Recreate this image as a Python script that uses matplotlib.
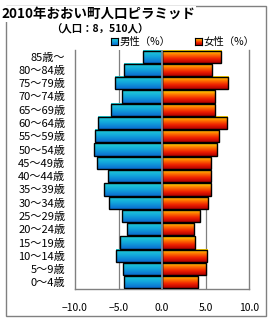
import numpy as np
import matplotlib
matplotlib.use("Agg")
import matplotlib.pyplot as plt
from matplotlib.colors import LinearSegmentedColormap
from matplotlib.patches import Rectangle

plt.rcParams['font.family'] = ['Noto Sans CJK JP', 'DejaVu Sans']

age_groups = ["0～4歳", "5～9歳", "10～14歳", "15～19歳", "20～24歳", "25～29歳",
              "30～34歳", "35～39歳", "40～44歳", "45～49歳", "50～54歳", "55～59歳",
              "60～64歳", "65～69歳", "70～74歳", "75～79歳", "80～84歳", "85歳～"]
male_pct = [4.4, 4.5, 5.3, 4.8, 4.0, 4.6, 6.1, 6.7, 6.2, 7.5, 7.8, 7.7,
            7.3, 5.9, 4.6, 5.4, 4.4, 2.2]
female_pct = [4.1, 5.1, 5.2, 3.8, 3.7, 4.4, 5.3, 5.6, 5.6, 5.6, 6.3, 6.5,
              7.5, 6.1, 6.1, 7.6, 5.8, 6.8]
x_ticks = [-10, -5, 0, 5, 10]
title = "2010年おおい町人口ピラミッド"
subtitle = "（人口：8，510人）"
legend_labels = ["男性（%）", "女性（%）"]

W, H = 270, 320
fig = plt.figure(figsize=(W / 100, H / 100), dpi=100)

# outer frame
fig.patches.append(Rectangle((5.5 / W, 1 - 315.5 / H), 260 / W, 310 / H,
                             transform=fig.transFigure, fill=False,
                             edgecolor='#808080', linewidth=1.0))

ax = fig.add_axes([75 / W, 1 - 289 / H, 174 / W, 239 / H])

male_cmap = LinearSegmentedColormap.from_list("m", ["#0a6cd0", "#12a6dc", "#22d2d6"])
female_cmap = LinearSegmentedColormap.from_list("f", ["#b00000", "#f02000", "#ff7800", "#ffe000"])
grad = np.linspace(0, 1, 64).reshape(-1, 1)

h = 0.92
for i, (m, f) in enumerate(zip(male_pct, female_pct)):
    y0, y1 = i - h / 2, i + h / 2
    ax.imshow(grad, extent=[-m, 0, y0, y1], origin='lower', aspect='auto',
              cmap=male_cmap, zorder=2, interpolation='bilinear')
    ax.add_patch(Rectangle((-m, y0), m, h, fill=False, edgecolor='black',
                           linewidth=1.0, zorder=3))
    ax.imshow(grad, extent=[0, f, y0, y1], origin='lower', aspect='auto',
              cmap=female_cmap, zorder=2, interpolation='bilinear')
    ax.add_patch(Rectangle((0, y0), f, h, fill=False, edgecolor='black',
                           linewidth=1.0, zorder=3))

ax.axvline(0, color='#8090a0', linewidth=1.3, zorder=4)
for gx in [-5, 5]:
    ax.axvline(gx, color='#808080', linewidth=0.9, zorder=1)

ax.set_xlim(-10, 10)
ax.set_ylim(-0.5, len(age_groups) - 0.5)
ax.set_xticks(x_ticks)
ax.set_xticklabels([f"{v:.1f}".replace('-', '\u2212') for v in x_ticks], fontsize=7.5)
ax.set_yticks(range(len(age_groups)))
ax.set_yticklabels(age_groups, fontsize=8)
ax.tick_params(axis='both', length=0)
ax.tick_params(axis='x', pad=10)
ax.tick_params(axis='y', pad=7)
for s in ['left', 'right', 'bottom']:
    ax.spines[s].set_color('#808080')
    ax.spines[s].set_linewidth(1.0)
ax.spines['top'].set_visible(False)

# titles
fig.text(1 / W, 1 - 18 / H, title, fontsize=9.7, fontweight='bold',
         va='baseline', ha='left',
         bbox=dict(facecolor='white', edgecolor='none', pad=1))
fig.text(100 / W, 1 - 29 / H, subtitle, fontsize=7.5, fontweight='bold',
         va='center', ha='center')

# legend
def legend_item(x, cmap, label):
    lax = fig.add_axes([x / W, 1 - 45 / H, 7 / W, 7 / H])
    lax.imshow(grad, extent=[0, 1, 0, 1], origin='lower', aspect='auto', cmap=cmap)
    lax.set_xticks([]); lax.set_yticks([])
    for s in lax.spines.values():
        s.set_color('black'); s.set_linewidth(0.8)
    fig.text((x + 9) / W, 1 - 41.5 / H, label, fontsize=7.5, va='center', ha='left')

legend_item(111, male_cmap, legend_labels[0])
legend_item(195, female_cmap, legend_labels[1])

fig.savefig("out.png", dpi=100)
